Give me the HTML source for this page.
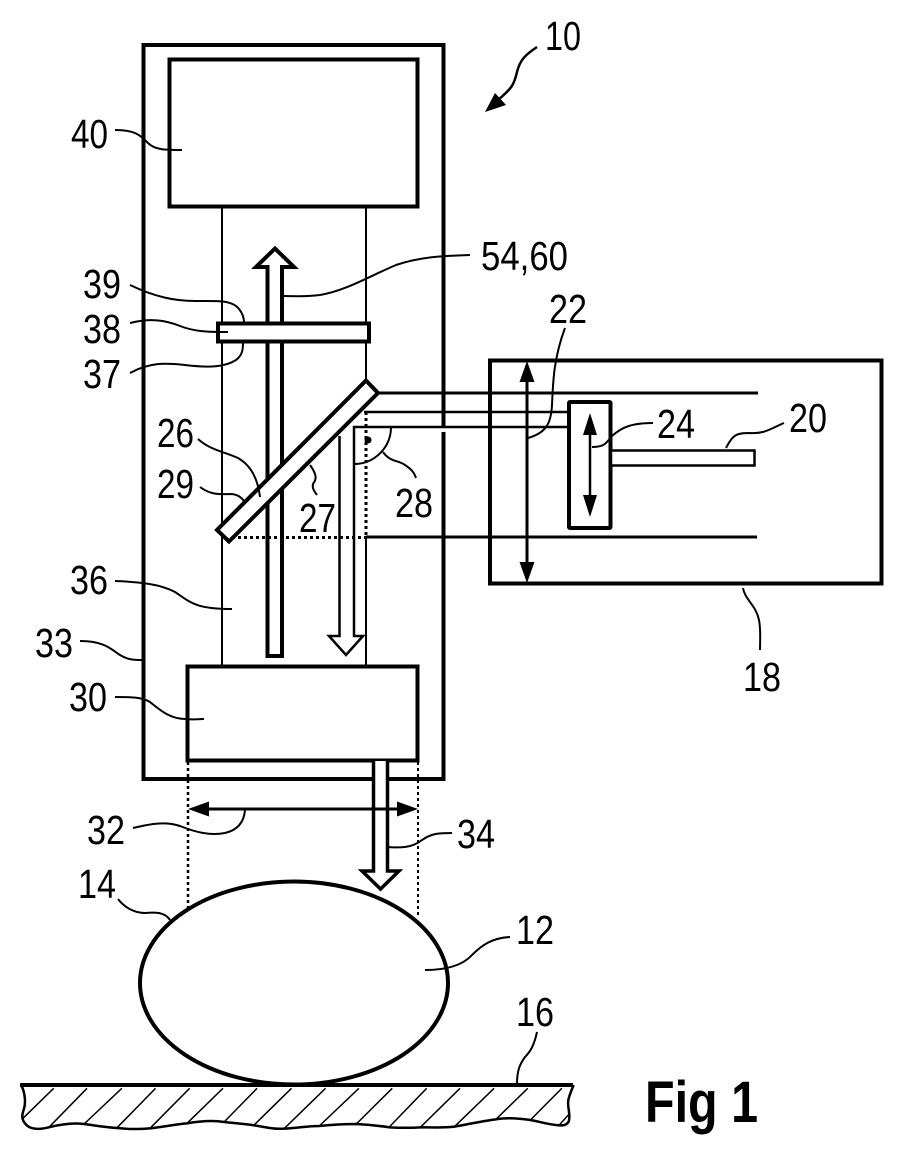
<!DOCTYPE html>
<html><head><meta charset="utf-8">
<style>
html,body{margin:0;padding:0;background:#fff}
svg{display:block}
text{font-family:"Liberation Sans",Arial,sans-serif;font-size:41px;fill:#000}
.t{fill:none;stroke:#000;stroke-width:2}
.m{fill:none;stroke:#000;stroke-width:2.5}
.b{fill:#fff;stroke:#000;stroke-width:4}
.n{fill:none;stroke:#000;stroke-width:4}
.d{fill:none;stroke:#000;stroke-width:3;stroke-dasharray:3 3}
.h{fill:none;stroke:#000;stroke-width:1.5;vector-effect:non-scaling-stroke}
.w{fill:none;stroke:#000;stroke-width:2.5;vector-effect:non-scaling-stroke}
</style></head><body>
<svg width="921" height="1169" viewBox="0 0 921 1169" xmlns="http://www.w3.org/2000/svg">
<rect width="921" height="1169" fill="#fff"/>

<!-- main housing -->
<rect x="143.500" y="45" width="300" height="734" class="n"/>
<rect x="169.500" y="59.500" width="248" height="147" class="n"/>

<!-- thin column lines -->
<path d="M222,206V666" class="t"/>
<path d="M366,206V380" class="t"/>
<path d="M366,537V666" class="t"/>

<!-- up arrow -->
<path d="M267.500,656V267H256L275,248.500L294,267H282V656Z" class="b"/>

<!-- plate 38 -->
<rect x="218" y="323.500" width="151" height="18" class="b"/>

<!-- right beam lines -->
<path d="M375,393H758" class="m" style="stroke-width:3"/>
<path d="M364,412H568" class="m"/>
<path d="M366,537H757" class="m" style="stroke-width:3"/>

<!-- thin down arrow -->
<path d="M339.500,436V636H329L346,655L363,636H354V427H568" fill="#fff" stroke="#000" stroke-width="2.500"/>

<!-- dotted -->
<path d="M366,412V537" class="d"/>
<path d="M232,537.500H366" class="d"/>

<!-- mirror -->
<path d="M366,380.500L378,393L229,541.500L217,530Z" class="b"/>

<!-- angle -->
<path d="M391,427A37,37 0 0 1 354,464" class="t"/>
<circle cx="368" cy="440" r="3.500" fill="#000"/>

<!-- unit 18 -->
<path d="M490,360.500H881.500V583.500H490Z" fill="none" stroke="#000" stroke-width="4"/>
<path d="M527,375V570" class="m" style="stroke-width:3"/>
<path d="M527,361L519.500,382H534.500Z M527,583L519.500,562H534.500Z" fill="#000"/>

<!-- box 24 -->
<rect x="569" y="402" width="41.500" height="126" rx="1" class="b"/>
<path d="M590,425V505" class="m"/>
<path d="M590,413L583,435H597Z M590,517L583,495H597Z" fill="#000"/>

<!-- fiber 20 -->
<rect x="611" y="450.500" width="143.500" height="15" fill="#fff" stroke="#000" stroke-width="2.500"/>

<!-- objective 30 -->
<rect x="187.500" y="666.500" width="230" height="94" class="b"/>

<!-- arrow 34 -->
<path d="M373.500,761V871H362L380.500,889L399,871H387.500V761" fill="#fff" stroke="#000" stroke-width="3.500"/>

<!-- dotted down -->
<path d="M188,762V910" class="d" style="stroke-width:2.500"/>
<path d="M418,762V916" class="d" style="stroke-width:2"/>

<!-- double arrow 32 -->
<path d="M200,809H405" class="m" style="stroke-width:3"/>
<path d="M188,809L209,801.500V816.500Z M418,809L397,801.500V816.500Z" fill="#000"/>

<!-- ellipse -->
<ellipse cx="294" cy="983" rx="154" ry="101.500" class="b" style="fill:none"/>

<!-- ground -->
<path d="M20,1085H573" class="n"/>
<g transform="translate(10,1040) scale(0.37037,0.33333)">
<path class="w" d="M30,135C42,160 42,190 38,205C34,220 28,235 42,252C50,264 70,272 105,262C140,252 170,248 200,252C240,258 260,262 290,264C320,268 350,268 378,265C420,260 450,252 478,250C510,244 545,240 578,246C610,250 635,252 660,256C690,262 715,268 740,266C780,264 800,258 835,258C870,254 905,252 935,252C970,254 1000,258 1025,262C1055,264 1080,264 1108,262C1140,262 1170,264 1200,260C1240,252 1280,242 1312,238C1340,232 1370,234 1405,240C1430,245 1455,254 1482,256C1500,258 1510,250 1510,235C1512,215 1502,190 1510,170C1514,155 1518,145 1522,135"/>
<path class="h" d="M118,145L35,235M208,145L105,262M302,145L200,252M393,145L290,262M485,145L378,265M575,145L478,250M667,145L578,246M760,145L660,254M852,145L740,266M942,145L835,258M1032,145L935,252M1125,145L1025,260M1215,145L1108,262M1307,145L1200,260M1398,145L1312,238M1490,145L1405,240M1510,222L1482,256"/>
</g>

<!-- leaders -->
<g fill="none" stroke="#000" stroke-width="2">
<path d="M115,130C135,130 140,135 148,143C155,150 165,150 182,150"/>
<path d="M470,255C440,256 420,257 396,265C370,276 345,291 320,295C305,297 295,296 283,296"/>
<path d="M130,285C155,297 175,301 195,301C215,301 228,300 236,306C243,312 244,318 244,323"/>
<path d="M130,323C150,318 165,320 180,326C195,332 210,332 228,332"/>
<path d="M130,373C150,362 165,363 185,365C210,368 225,367 236,360C243,355 243,348 243,342"/>
<path d="M198,439C210,450 225,452 238,458C252,466 258,480 260,497"/>
<path d="M200,487C212,496 222,494 232,494C238,495 241,497 244,501"/>
<path d="M310,465C318,476 316,480 313,484C312,488 314,491 317,495"/>
<path d="M383,452C390,462 398,460 405,465C411,469 414,472 416,478"/>
<path d="M528,438C545,433 551,425 552,405C553,385 553,360 565,328"/>
<path d="M592,447C605,447 606,443 612,436C622,427 632,423 653,423"/>
<path d="M726,448C733,434 737,433 750,433C765,434 772,428 784,423"/>
<path d="M743,588C745,600 756,605 759,620C761,630 760,640 760,650"/>
<path d="M115,581C140,582 160,584 175,592C190,602 195,609 232,609"/>
<path d="M80,641C105,641 112,650 120,655C128,660 134,660 143,660"/>
<path d="M115,697C130,697 142,697 150,702C160,710 170,719 185,719C192,720 198,719 204,719"/>
<path d="M133,828C150,824 165,821 180,826C195,832 210,836 225,833C238,830 244,822 245,810"/>
<path d="M388,847C400,848 412,848 422,840C432,833 440,833 452,833"/>
<path d="M118,899C125,908 135,913 145,913C155,912 165,912 170,920"/>
<path d="M425,970C445,970 462,966 472,955C482,945 492,938 510,937"/>
<path d="M517,1084C517,1070 520,1064 525,1057C530,1052 534,1046 537,1032"/>
</g>
<path d="M485,112L495,93L506,105Z" fill="#000"/>
<path d="M537,47C525,55 520,60 517,72C514,85 512,88 498,100" fill="none" stroke="#000" stroke-width="2.500"/>

<!-- labels -->
<text x="545" y="50" textLength="36" lengthAdjust="spacingAndGlyphs">10</text>
<text x="71" y="148" textLength="37" lengthAdjust="spacingAndGlyphs">40</text>
<text x="83" y="298" textLength="38" lengthAdjust="spacingAndGlyphs">39</text>
<text x="83" y="343" textLength="38" lengthAdjust="spacingAndGlyphs">38</text>
<text x="83" y="388" textLength="38" lengthAdjust="spacingAndGlyphs">37</text>
<text x="157" y="447" textLength="37" lengthAdjust="spacingAndGlyphs">26</text>
<text x="157" y="498" textLength="37" lengthAdjust="spacingAndGlyphs">29</text>
<text x="299" y="532" textLength="37" lengthAdjust="spacingAndGlyphs">27</text>
<text x="395" y="517" textLength="38" lengthAdjust="spacingAndGlyphs">28</text>
<text x="481" y="270" textLength="87" lengthAdjust="spacingAndGlyphs">54,60</text>
<text x="549" y="323" textLength="38" lengthAdjust="spacingAndGlyphs">22</text>
<text x="657" y="438" textLength="38" lengthAdjust="spacingAndGlyphs">24</text>
<text x="789" y="432" textLength="38" lengthAdjust="spacingAndGlyphs">20</text>
<text x="70" y="594" textLength="38" lengthAdjust="spacingAndGlyphs">36</text>
<text x="35" y="657" textLength="38" lengthAdjust="spacingAndGlyphs">33</text>
<text x="69" y="711" textLength="38" lengthAdjust="spacingAndGlyphs">30</text>
<text x="743" y="691" textLength="38" lengthAdjust="spacingAndGlyphs">18</text>
<text x="87" y="844" textLength="38" lengthAdjust="spacingAndGlyphs">32</text>
<text x="457" y="848" textLength="38" lengthAdjust="spacingAndGlyphs">34</text>
<text x="78" y="898" textLength="38" lengthAdjust="spacingAndGlyphs">14</text>
<text x="516" y="944" textLength="38" lengthAdjust="spacingAndGlyphs">12</text>
<text x="516" y="1026" textLength="38" lengthAdjust="spacingAndGlyphs">16</text>
<text x="645" y="1122" textLength="113" lengthAdjust="spacingAndGlyphs" style="font-size:58px;font-weight:bold">Fig 1</text>
</svg>
</body></html>
